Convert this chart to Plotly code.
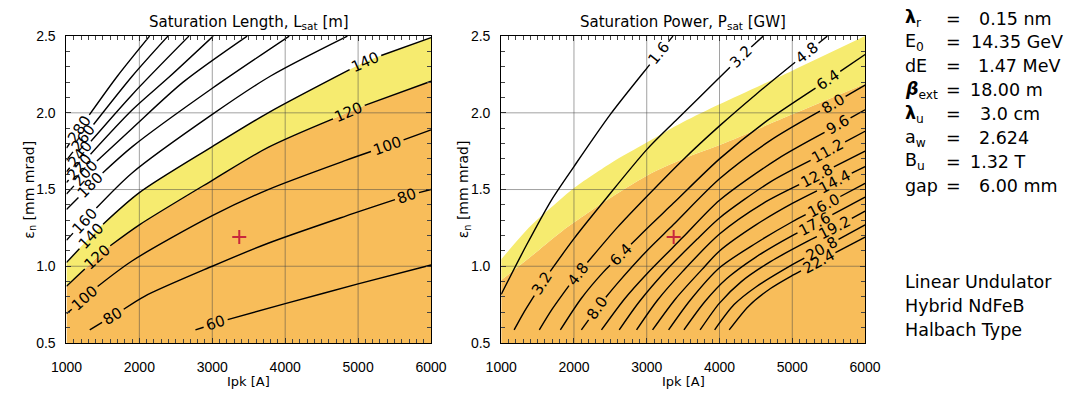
import numpy as np
import plotly.graph_objects as go

# ---------------------------------------------------------------- data
IPK_TICKS = [1000, 2000, 3000, 4000, 5000, 6000]          # Ipk [A]
EMIT_TICKS = [0.5, 1.0, 1.5, 2.0, 2.5]                     # eps_n [mm mrad]

# Saturation length contours, L_sat [m]
LSAT_LEVELS = [60, 80, 100, 120, 140, 160, 180, 200, 220, 240, 260, 280]
LSAT_IPK = {
    60: [2769, 3046, 3234, 4000, 5000, 6000],
    80: [1319, 1637, 2077, 3000, 3766, 4830, 5670, 6000],
    100: [1000, 1439, 1904, 3000, 3766, 4830, 5400, 6000],
    120: [1000, 1300, 1590, 2000, 3000, 3766, 4650, 5096, 6000],
    140: [1000, 1480, 2000, 3000, 3766, 4941, 5296, 6000],
    160: [1000, 1390, 1904, 3000, 3800, 4853],
    180: [1000, 1500, 1904, 3000, 4055],
    200: [1000, 1380, 1904, 2600, 3478],
    220: [1000, 1270, 1904, 2400, 3012],
    240: [1000, 1290, 1904, 2680],
    260: [1000, 1340, 1904, 2392],
    280: [1000, 1319, 1700, 2140],
}
LSAT_EMIT = {
    60: [0.585, 0.628, 0.656, 0.756, 0.885, 1.008],
    80: [0.585, 0.676, 0.806, 1.0, 1.15, 1.327, 1.46, 1.50],
    100: [0.69, 0.873, 1.036, 1.33, 1.5, 1.69, 1.785, 1.889],
    120: [0.869, 1.005, 1.13, 1.27, 1.56, 1.775, 1.96, 2.05, 2.206],
    140: [1.025, 1.265, 1.48, 1.78, 2.0, 2.296, 2.37, 2.49],
    160: [1.17, 1.37, 1.61, 1.99, 2.24, 2.5],
    180: [1.37, 1.61, 1.78, 2.16, 2.5],
    200: [1.47, 1.67, 1.90, 2.2, 2.5],
    220: [1.545, 1.70, 2.02, 2.23, 2.5],
    240: [1.615, 1.79, 2.12, 2.5],
    260: [1.69, 1.905, 2.24, 2.5],
    280: [1.77, 1.99, 2.24, 2.5],
}
LSAT_LABEL_IPK = {
    60: [3046], 80: [1637, 5670], 100: [1250, 5400], 120: [1426, 4873],
    140: [1340, 5100], 160: [1250], 180: [1330], 200: [1260], 220: [1180],
    240: [1190], 260: [1230], 280: [1180],
}

# Saturation power contours, P_sat [GW]
PSAT_LEVELS = [1.6, 3.2, 4.8, 6.4, 8.0, 9.6, 11.2, 12.8, 14.4, 16.0, 17.6, 19.2, 20.8, 22.4]
PSAT_IPK = {
    1.6: [1000, 1350, 1689, 2000, 2500, 3000, 3360],
    3.2: [1178, 1300, 1430, 1564, 1700, 2000, 2422, 3000, 3400, 4000, 4290, 4600],
    4.8: [1524, 1700, 1900, 2058, 2210, 2600, 3000, 3500, 4000, 4500, 5040, 5200, 5480],
    6.4: [1813, 2100, 2400, 2640, 3000, 3364, 4000, 4600, 5489, 6000],
    8.0: [2102, 2320, 2600, 3000, 3364, 4000, 4700, 5556, 6000],
    9.6: [2378, 2700, 3000, 3500, 4000, 4800, 5622, 6000],
    11.2: [2622, 2900, 3300, 3700, 4000, 4700, 5489, 6000],
    12.8: [2860, 3150, 3500, 4000, 4600, 5333, 6000],
    14.4: [3080, 3400, 3800, 4000, 4500, 5000, 5578, 6000],
    16.0: [3300, 3600, 4000, 4500, 5000, 5422, 6000],
    17.6: [3511, 3800, 4100, 4500, 5000, 5311, 6000],
    19.2: [3733, 4000, 4300, 4700, 5200, 5578, 6000],
    20.8: [3933, 4200, 4500, 5000, 5400, 6000],
    22.4: [4133, 4400, 4700, 5000, 5356, 6000],
}
PSAT_EMIT = {
    1.6: [0.817, 1.14, 1.43, 1.65, 1.99, 2.29, 2.5],
    3.2: [0.585, 0.69, 0.79, 0.89, 0.985, 1.18, 1.43, 1.76, 1.95, 2.23, 2.365, 2.5],
    4.8: [0.585, 0.72, 0.855, 0.95, 1.04, 1.255, 1.455, 1.695, 1.915, 2.12, 2.33, 2.39, 2.5],
    6.4: [0.585, 0.79, 0.96, 1.075, 1.245, 1.41, 1.70, 1.93, 2.215, 2.38],
    8.0: [0.585, 0.73, 0.89, 1.10, 1.27, 1.57, 1.82, 2.06, 2.18],
    9.6: [0.585, 0.79, 0.95, 1.19, 1.43, 1.70, 1.92, 2.02],
    11.2: [0.585, 0.77, 0.99, 1.18, 1.315, 1.55, 1.75, 1.88],
    12.8: [0.585, 0.78, 0.97, 1.21, 1.41, 1.59, 1.75],
    14.4: [0.585, 0.79, 1.0, 1.10, 1.27, 1.41, 1.55, 1.65],
    16.0: [0.585, 0.78, 0.99, 1.15, 1.29, 1.395, 1.54],
    17.6: [0.585, 0.77, 0.92, 1.06, 1.20, 1.275, 1.45],
    19.2: [0.585, 0.76, 0.90, 1.03, 1.16, 1.25, 1.36],
    20.8: [0.585, 0.75, 0.865, 1.01, 1.115, 1.27],
    22.4: [0.585, 0.74, 0.855, 0.94, 1.03, 1.19],
}
PSAT_LABEL_IPK = {
    1.6: [3170], 3.2: [1564, 4290], 4.8: [2058, 5200], 6.4: [2640, 5489],
    8.0: [2320, 5556], 9.6: [5622], 11.2: [5489], 12.8: [5333], 14.4: [5578],
    16.0: [5422], 17.6: [5311], 19.2: [5578], 20.8: [5400], 22.4: [5356],
}

# Operating regions on the power map (L_sat <= 120 m and 120-140 m)
ORANGE_EDGE_IPK = [1000, 1400, 1840, 2450, 3000, 3500, 4000, 5000, 6000]
ORANGE_EDGE_EMIT = [0.91, 1.06, 1.23, 1.43, 1.59, 1.70, 1.79, 1.99, 2.19]
YELLOW_EDGE_IPK = [1000, 1400, 1800, 2000, 2500, 3000, 3500, 4000, 5000, 6000]
YELLOW_EDGE_EMIT = [1.045, 1.26, 1.43, 1.51, 1.67, 1.806, 1.94, 2.056, 2.275, 2.5]

# Design point
DESIGN_IPK = [3370]
DESIGN_EMIT = [1.19]

# Parameter table
PARAM_SYMBOLS = ["<b>λ</b><sub>r</sub>", "E<sub>0</sub>", "dE", "<b><i>β</i></b><sub>ext</sub>",
                 "<b>λ</b><sub>u</sub>", "a<sub>w</sub>", "B<sub>u</sub>", "gap"]
PARAM_VALUES = ["0.15 nm", "14.35 GeV", "1.47 MeV", "18.00 m", "3.0 cm", "2.624", "1.32 T", "6.00 mm"]
UNDULATOR_NOTES = ["Linear Undulator", "Hybrid NdFeB", "Halbach Type"]

# ---------------------------------------------------------------- layout
W, H = 1080, 398
X_RANGE = [1000, 6000]
Y_RANGE = [0.5, 2.5]
LEFT_PX = (52.0, 427.7)
RIGHT_PX = (500.0, 875.0)
TOP_PX, BOTTOM_PX = 29.3, 349.0

ORANGE = "#F8BD5A"
YELLOW = "#F6EB6F"
GRID = "rgba(70,70,70,0.5)"
LABEL_FONT = dict(family="DejaVu Sans", size=15, color="black")
TEXT_FONT = "DejaVu Sans"


def xdom(px):
    return [px[0] / W, px[1] / W]


YDOM = [1 - BOTTOM_PX / H, 1 - TOP_PX / H]
YPP = (Y_RANGE[1] - Y_RANGE[0]) / (BOTTOM_PX - TOP_PX)


def label_width(text, size):
    return size * sum(0.318 if ch == "." else 0.636 for ch in text)


def split_line(xs, ys, label_xs, text, xpp):
    """Break a contour polyline where its labels sit; return path + label placements."""
    xs = np.asarray(xs, float)
    ys = np.asarray(ys, float)
    half = 0.5 * label_width(text, LABEL_FONT["size"]) + 3.5
    cuts, labels = [], []
    for c in sorted(label_xs):
        i = int(np.clip(np.searchsorted(xs, c), 1, len(xs) - 1))
        slope = (ys[i] - ys[i - 1]) / (xs[i] - xs[i - 1])
        s_px = slope * xpp / YPP
        d = half / np.hypot(1.0, s_px) * xpp
        cuts.append((c - d, c + d))
        labels.append((c, float(np.interp(c, xs, ys)), -np.degrees(np.arctan(s_px))))
    bounds = [xs[0]] + [v for cut in cuts for v in cut] + [xs[-1]]
    px, py = [], []
    for lo, hi in zip(bounds[0::2], bounds[1::2]):
        lo = max(lo, xs[0])
        hi = min(hi, xs[-1])
        if hi <= lo:
            continue
        keep = (xs > lo + 40) & (xs < hi - 40)
        seg_x = [lo] + list(xs[keep]) + [hi]
        seg_y = [float(np.interp(lo, xs, ys))] + list(ys[keep]) + [float(np.interp(hi, xs, ys))]
        px += seg_x + [None]
        py += seg_y + [None]
    return px, py, labels


fig = go.Figure()
annotations = []


def add_fill(xs, ys, color, mode, xa, ya):
    fig.add_trace(go.Scatter(
        x=xs, y=ys, mode="lines", line=dict(width=0, shape="spline", smoothing=0.8),
        fill=mode, fillcolor=color, hoverinfo="skip", xaxis=xa, yaxis=ya))


def add_grid(xa, ya):
    gx, gy = [], []
    for t in IPK_TICKS[1:-1]:
        gx += [t, t, None]
        gy += [Y_RANGE[0], Y_RANGE[1], None]
    for t in EMIT_TICKS[1:-1]:
        gx += [X_RANGE[0], X_RANGE[1], None]
        gy += [t, t, None]
    fig.add_trace(go.Scatter(x=gx, y=gy, mode="lines", line=dict(color=GRID, width=1),
                             hoverinfo="skip", xaxis=xa, yaxis=ya))


def add_contours(levels, ipk, emit, label_ipk, fmt, xpp, xa, ya):
    for lev in levels:
        text = fmt(lev)
        px, py, labels = split_line(ipk[lev], emit[lev], label_ipk.get(lev, []), text, xpp)
        fig.add_trace(go.Scatter(x=px, y=py, mode="lines",
                                 line=dict(color="black", width=1.4, shape="spline", smoothing=0.8),
                                 hoverinfo="skip", xaxis=xa, yaxis=ya))
        for (lx, ly, ang) in labels:
            annotations.append(dict(x=lx, y=ly, xref=xa, yref=ya, text=text, showarrow=False,
                                    textangle=ang, font=LABEL_FONT, xanchor="center",
                                    yanchor="middle", borderpad=0))


XPP_L = (X_RANGE[1] - X_RANGE[0]) / (LEFT_PX[1] - LEFT_PX[0])
XPP_R = (X_RANGE[1] - X_RANGE[0]) / (RIGHT_PX[1] - RIGHT_PX[0])

# left panel: saturation length
add_fill(LSAT_IPK[120], LSAT_EMIT[120], ORANGE, "tozeroy", "x", "y")
add_fill(LSAT_IPK[140], LSAT_EMIT[140], YELLOW, "tonexty", "x", "y")
add_grid("x", "y")
add_contours(LSAT_LEVELS, LSAT_IPK, LSAT_EMIT, LSAT_LABEL_IPK, lambda v: f"{v:d}", XPP_L, "x", "y")

# right panel: saturation power
add_fill(ORANGE_EDGE_IPK, ORANGE_EDGE_EMIT, ORANGE, "tozeroy", "x2", "y2")
add_fill(YELLOW_EDGE_IPK, YELLOW_EDGE_EMIT, YELLOW, "tonexty", "x2", "y2")
add_grid("x2", "y2")
add_contours(PSAT_LEVELS, PSAT_IPK, PSAT_EMIT, PSAT_LABEL_IPK, lambda v: f"{v:.1f}", XPP_R, "x2", "y2")

for xa, ya in (("x", "y"), ("x2", "y2")):
    fig.add_trace(go.Scatter(x=DESIGN_IPK, y=DESIGN_EMIT, mode="markers",
                             marker=dict(symbol="cross-thin", size=10,
                                         line=dict(color="#C8283C", width=2)),
                             hoverinfo="skip", xaxis=xa, yaxis=ya))


def paper(px, py):
    return px / W, 1 - py / H


def text_at(px, py, text, size, xanchor="center", angle=0, family=TEXT_FONT):
    x, y = paper(px, py)
    annotations.append(dict(x=x, y=y, xref="paper", yref="paper", text=text, showarrow=False,
                            xanchor=xanchor, yanchor="middle", textangle=angle,
                            font=dict(family=family, size=size, color="black")))


# titles and axis labels
for (x0, x1), title in ((LEFT_PX, "Saturation Length, L<sub>sat</sub> [m]"),
                        (RIGHT_PX, "Saturation Power, P<sub>sat</sub> [GW]")):
    cx = 0.5 * (x0 + x1)
    text_at(cx, 15, title, 15)
    text_at(cx, 389, "Ipk [A]", 13)
    text_at(x0 - 38.5, 0.5 * (TOP_PX + BOTTOM_PX), "ε<sub>n</sub> [mm mrad]", 14, angle=-90)

# parameter table
ROW0, ROW_STEP = 11.0, 24.9
VALUE_X = [991, 983, 990, 982, 992, 991, 982, 991]
for i, (sym, val) in enumerate(zip(PARAM_SYMBOLS, PARAM_VALUES)):
    yy = ROW0 + i * ROW_STEP
    text_at(914, yy, sym, 17.5, xanchor="left")
    text_at(966, yy, "=", 17.5)
    text_at(VALUE_X[i] - 1, yy, val, 17.5, xanchor="left")
for i, line in enumerate(UNDULATOR_NOTES):
    text_at(914, 285 + i * 25, line, 17.5, xanchor="left")


def axis(dom, rng, dtick, minor, fmt=None, anchor=None):
    a = dict(domain=dom, range=rng, tick0=rng[0], dtick=dtick, showline=True, linecolor="black",
             linewidth=1, mirror="ticks", ticks="inside", ticklen=5, tickcolor="#333",
             showgrid=False, zeroline=False, fixedrange=True, anchor=anchor,
             tickfont=dict(family="Liberation Sans", size=14, color="black"),
             minor=dict(dtick=minor, ticks="inside", ticklen=4, tickcolor="#444", showgrid=False))
    if fmt:
        a["tickformat"] = fmt
    return a


fig.update_layout(
    width=W, height=H, margin=dict(l=0, r=0, t=0, b=0),
    paper_bgcolor="white", plot_bgcolor="white", showlegend=False,
    xaxis=axis(xdom(LEFT_PX), X_RANGE, 1000, 100, anchor="y"),
    yaxis=axis(YDOM, Y_RANGE, 0.5, 0.1, ".1f", anchor="x"),
    xaxis2=axis(xdom(RIGHT_PX), X_RANGE, 1000, 100, anchor="y2"),
    yaxis2=axis(YDOM, Y_RANGE, 0.5, 0.1, ".1f", anchor="x2"),
    annotations=annotations,
)
fig.update_xaxes(ticklabelstandoff=11)
fig.update_yaxes(ticklabelstandoff=7)

fig.write_html("out.html", config={"displayModeBar": False})
